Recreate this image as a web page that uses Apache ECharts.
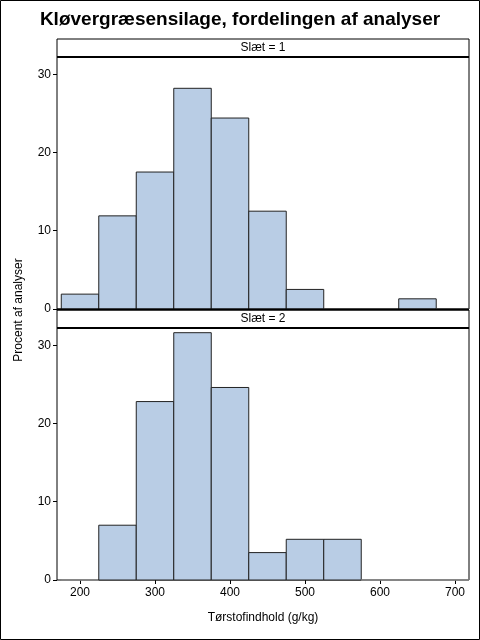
<!DOCTYPE html>
<html>
<head>
<meta charset="utf-8">
<script src="https://cdn.jsdelivr.net/npm/echarts@6/dist/echarts.min.js"></script>
<style>
  html, body { margin: 0; padding: 0; background: #fff; }
  #main { width: 480px; height: 640px; }
</style>
</head>
<body>
<div id="main"></div>
<script>
// bin midpoints (bin width 50 g/kg)
var binMids = [200, 250, 300, 350, 400, 450, 500, 550, 600, 650, 700];
// percent of analyses per bin, Slæt = 1 and Slæt = 2
var pctSlaet1 = [1.9, 11.9, 17.5, 28.2, 24.4, 12.5, 2.5, 0, 0, 1.3, 0];
var pctSlaet2 = [0, 7.0, 22.8, 31.6, 24.6, 3.5, 5.2, 5.2, 0, 0, 0];
var xTicks = [200, 300, 400, 500, 600, 700];
var yTicks = [0, 10, 20, 30];
var panelLabels = ['Slæt = 1', 'Slæt = 2'];
var binWidth = 50;

var chart = echarts.init(document.getElementById('main'));
var font = '"Liberation Sans", Arial, sans-serif';

function renderBin(params, api) {
    var mid = api.value(0);
    var p0 = api.coord([mid - binWidth / 2, api.value(1)]);
    var p1 = api.coord([mid + binWidth / 2, 0]);
    var rect = echarts.graphic.clipRectByRect({
        x: p0[0], y: p0[1], width: p1[0] - p0[0], height: p1[1] - p0[1]
    }, {
        x: params.coordSys.x, y: params.coordSys.y,
        width: params.coordSys.width, height: params.coordSys.height
    });
    if (!rect) return;
    var empty = api.value(1) === 0;
    return {
        type: 'rect',
        shape: rect,
        style: {
            fill: '#B9CDE5',
            stroke: empty ? '#888' : '#222',
            lineWidth: 1
        }
    };
}

function yAxisFor(i) {
    return {
        gridIndex: i, type: 'value', min: 0, max: 32.2,
        axisLine: { show: false },
        axisTick: { show: true, length: 4, customValues: yTicks, lineStyle: { color: '#000' } },
        axisLabel: { customValues: yTicks, color: '#000', fontSize: 12, fontFamily: font, margin: 6 },
        splitLine: { show: false }
    };
}

function xAxisFor(i, showLabels) {
    return {
        gridIndex: i, type: 'value', min: 169.3, max: 718.7,
        axisLine: { show: false },
        axisTick: { show: showLabels, length: 4, customValues: xTicks, lineStyle: { color: '#000' } },
        axisLabel: { show: showLabels, customValues: xTicks, color: '#000', fontSize: 12, fontFamily: font, margin: 7 },
        splitLine: { show: false }
    };
}

function stripGraphics(top, label) {
    return [
        { type: 'rect', shape: { x: 57, y: top, width: 412, height: 18 },
          style: { fill: '#fff', stroke: '#000', lineWidth: 1 }, z: 10 },
        { type: 'text', x: 263, y: top + 9,
          style: { text: label, fill: '#000', font: '12px ' + font, align: 'center', verticalAlign: 'middle' }, z: 11 },
        { type: 'line', shape: { x1: 57, y1: top + 18, x2: 469, y2: top + 18 },
          style: { stroke: '#000', lineWidth: 2 }, z: 12 }
    ];
}

var graphics = [
    { type: 'rect', shape: { x: 0.5, y: 0.5, width: 479, height: 639 },
      style: { fill: 'none', stroke: '#000', lineWidth: 1 }, z: 20 },
    { type: 'text', x: 240, y: 20,
      style: { text: 'Kløvergræsensilage, fordelingen af analyser', fill: '#000',
               font: 'bold 19px ' + font, align: 'center', verticalAlign: 'middle' } },
    { type: 'text', x: 19, y: 310, rotation: Math.PI / 2,
      style: { text: 'Procent af analyser', fill: '#000', font: '12px ' + font,
               align: 'center', verticalAlign: 'middle' } },
    { type: 'text', x: 263, y: 618,
      style: { text: 'Tørstofindhold (g/kg)', fill: '#000', font: '12px ' + font,
               align: 'center', verticalAlign: 'middle' } },
    { type: 'line', shape: { x1: 57, y1: 309.5, x2: 469, y2: 309.5 },
      style: { stroke: '#000', lineWidth: 2 }, z: 12 }
].concat(stripGraphics(39, panelLabels[0]), stripGraphics(310, panelLabels[1]));

chart.setOption({
    animation: false,
    backgroundColor: '#fff',
    grid: [
        { left: 57, top: 57, width: 412, height: 252, show: true, borderColor: '#000', borderWidth: 1, backgroundColor: '#fff' },
        { left: 57, top: 328, width: 412, height: 252, show: true, borderColor: '#000', borderWidth: 1, backgroundColor: '#fff' }
    ],
    xAxis: [xAxisFor(0, false), xAxisFor(1, true)],
    yAxis: [yAxisFor(0), yAxisFor(1)],
    series: [
        { type: 'custom', xAxisIndex: 0, yAxisIndex: 0, renderItem: renderBin,
          data: binMids.map(function (m, i) { return [m, pctSlaet1[i]]; }) },
        { type: 'custom', xAxisIndex: 1, yAxisIndex: 1, renderItem: renderBin,
          data: binMids.map(function (m, i) { return [m, pctSlaet2[i]]; }) }
    ],
    graphic: graphics
});
</script>
</body>
</html>
